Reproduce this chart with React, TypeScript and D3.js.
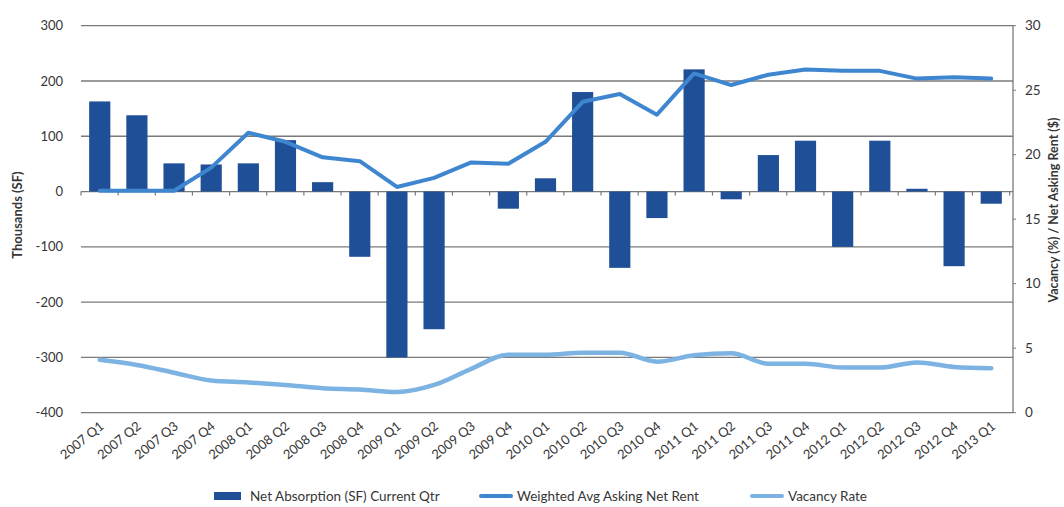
import React from "react";
import * as d3 from "d3";

// Quarterly office market figures
const quarters = [
  "2007 Q1", "2007 Q2", "2007 Q3", "2007 Q4",
  "2008 Q1", "2008 Q2", "2008 Q3", "2008 Q4",
  "2009 Q1", "2009 Q2", "2009 Q3", "2009 Q4",
  "2010 Q1", "2010 Q2", "2010 Q3", "2010 Q4",
  "2011 Q1", "2011 Q2", "2011 Q3", "2011 Q4",
  "2012 Q1", "2012 Q2", "2012 Q3", "2012 Q4",
  "2013 Q1",
];

// Net absorption, thousands of SF
const netAbsorption = [
  163, 138, 51, 49, 51, 93, 17, -118, -300, -249, 0, -31, 24, 180, -138, -48,
  221, -14, 66, 92, -100, 92, 5, -135, -22,
];

// Weighted average asking net rent, $
const askingRent = [
  17.2, 17.2, 17.2, 19.0, 21.7, 21.0, 19.8, 19.5, 17.5, 18.2, 19.4, 19.3, 21.0,
  24.1, 24.7, 23.1, 26.3, 25.4, 26.2, 26.6, 26.5, 26.5, 25.9, 26.0, 25.9,
];

// Vacancy rate, %
const vacancyRate = [
  4.1, 3.7, 3.1, 2.5, 2.35, 2.15, 1.9, 1.8, 1.6, 2.15, 3.4, 4.5, 4.5, 4.65,
  4.65, 3.95, 4.45, 4.6, 3.8, 3.8, 3.5, 3.5, 3.9, 3.55, 3.45,
];

const leftTicks = [300, 200, 100, 0, -100, -200, -300, -400];
const rightTicks = [0, 5, 10, 15, 20, 25, 30];

const legendItems = [
  { label: "Net Absorption (SF) Current Qtr", kind: "bar" },
  { label: "Weighted Avg Asking Net Rent", kind: "rent" },
  { label: "Vacancy Rate", kind: "vacancy" },
];

const W = 1064;
const H = 507;
const plot = { left: 81, right: 1013, top: 25.7, bottom: 412.7 };

const BAR = "#1f4f96";
const RENT = "#3f86d0";
const VAC = "#7db3e2";
const GRID = "#7a7a7a";
const TEXT = "#363636";
const FONT = "Lato, 'Open Sans', sans-serif";

export default function App() {
  const x = d3
    .scaleBand<string>()
    .domain(quarters)
    .range([plot.left, plot.right - 3])
    .paddingInner(0.43)
    .paddingOuter(0.22);

  const band = x.step();
  const bandStart = plot.left;
  const yLeft = d3.scaleLinear().domain([-400, 300]).range([plot.bottom, plot.top]);
  const yRight = d3.scaleLinear().domain([0, 30]).range([plot.bottom, plot.top]);

  const cx = (q: string) => (x(q) ?? 0) + x.bandwidth() / 2;

  const rentPath = d3
    .line<number>()
    .x((_, i) => cx(quarters[i]))
    .y((d) => yRight(d))
    .curve(d3.curveLinear)(askingRent);

  const vacPath = d3
    .line<number>()
    .x((_, i) => cx(quarters[i]))
    .y((d) => yRight(d))
    .curve(d3.curveMonotoneX)(vacancyRate);

  const y0 = yLeft(0);

  // legend swatch start and label start
  const legendPos = [
    { sx: 214, tx: 250 },
    { sx: 479, tx: 517 },
    { sx: 750, tx: 788 },
  ];

  return (
    <svg
      width={W}
      height={H}
      style={{ position: "absolute", left: 0, top: 0, background: "#fff" }}
      fontFamily={FONT}
    >
      {/* horizontal gridlines */}
      {leftTicks.map((t) => (
        <line
          key={"g" + t}
          x1={plot.left}
          x2={plot.right}
          y1={yLeft(t)}
          y2={yLeft(t)}
          stroke={GRID}
          strokeWidth={1.3}
        />
      ))}

      {/* left tick labels */}
      {leftTicks.map((t) => (
        <text
          key={"l" + t}
          x={63}
          y={yLeft(t)}
          dy="0.35em"
          textAnchor="end"
          fontSize={13}
          fill={TEXT}
        >
          {t}
        </text>
      ))}

      {/* right axis */}
      <line
        x1={plot.right}
        x2={plot.right}
        y1={plot.top}
        y2={plot.bottom}
        stroke={GRID}
        strokeWidth={1.3}
      />
      {rightTicks.map((t) => (
        <g key={"r" + t}>
          <line
            x1={plot.right}
            x2={plot.right + 3}
            y1={yRight(t)}
            y2={yRight(t)}
            stroke={GRID}
            strokeWidth={1}
          />
          <text
            x={1025}
            y={yRight(t)}
            dy="0.35em"
            fontSize={13.5}
            fill={TEXT}
          >
            {t}
          </text>
        </g>
      ))}

      {/* category ticks along the zero line */}
      {d3.range(quarters.length + 1).map((i) => (
        <line
          key={"t" + i}
          x1={bandStart + i * band}
          x2={bandStart + i * band}
          y1={y0}
          y2={y0 + 4}
          stroke={GRID}
          strokeWidth={1.2}
        />
      ))}

      {/* net absorption bars */}
      {netAbsorption.map((v, i) => (
        <rect
          key={"b" + i}
          x={x(quarters[i])}
          width={x.bandwidth()}
          y={Math.min(yLeft(v), y0)}
          height={Math.max(Math.abs(yLeft(v) - y0), v === 0 ? 0 : 1)}
          fill={BAR}
        />
      ))}

      {/* lines */}
      <path
        d={rentPath ?? ""}
        fill="none"
        stroke={RENT}
        strokeWidth={4}
        strokeLinejoin="round"
        strokeLinecap="round"
      />
      <path
        d={vacPath ?? ""}
        fill="none"
        stroke={VAC}
        strokeWidth={4.5}
        strokeLinejoin="round"
        strokeLinecap="round"
      />

      {/* x category labels */}
      {quarters.map((q) => (
        <text
          key={"x" + q}
          transform={`translate(${cx(q) + 5},${plot.bottom + 15}) rotate(-39)`}
          textAnchor="end"
          fontSize={13}
          fill={TEXT}
        >
          {q}
        </text>
      ))}

      {/* axis titles */}
      <text
        transform={`translate(22,215) rotate(-90)`}
        textAnchor="middle"
        fontSize={13}
        fontWeight="bold"
        fill={TEXT}
      >
        Thousands (SF)
      </text>
      <text
        transform={`translate(1058,210) rotate(-90)`}
        textAnchor="middle"
        fontSize={12.5}
        fontWeight="bold"
        fill={TEXT}
      >
        Vacancy (%) / Net Asking Rent ($)
      </text>

      {/* legend */}
      {legendItems.map((item, i) => {
        const { sx, tx } = legendPos[i];
        const ly = 496;
        return (
          <g key={"lg" + i}>
            {item.kind === "bar" ? (
              <rect x={sx} y={ly - 4} width={27} height={8} fill={BAR} />
            ) : (
              <line
                x1={sx + 2}
                x2={sx + 32}
                y1={ly}
                y2={ly}
                stroke={item.kind === "rent" ? RENT : VAC}
                strokeWidth={4}
                strokeLinecap="round"
              />
            )}
            <text x={tx} y={ly} dy="0.35em" fontSize={13.5} fill={TEXT}>
              {item.label}
            </text>
          </g>
        );
      })}
    </svg>
  );
}
